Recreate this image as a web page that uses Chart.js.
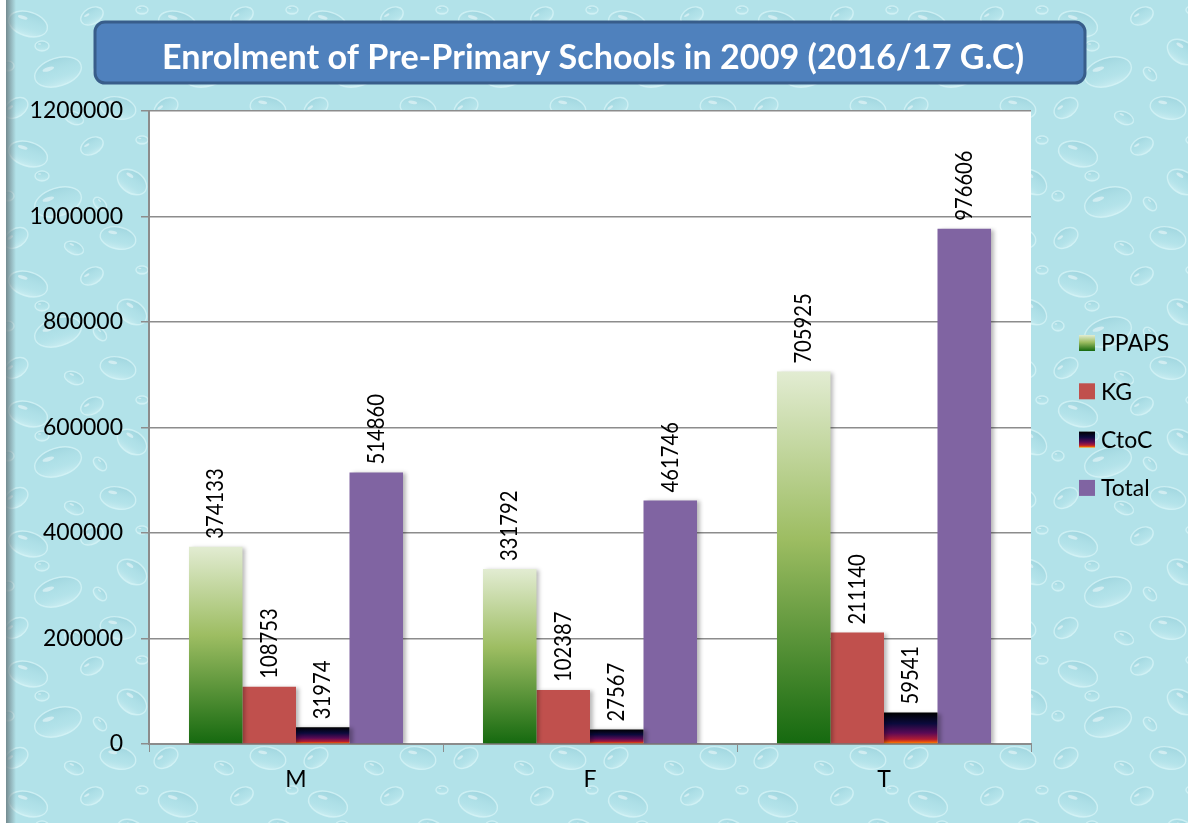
<!DOCTYPE html>
<html>
<head>
<meta charset="utf-8">
<style>
  body { margin: 0; background: #fff; }
  canvas { display: block; }
</style>
</head>
<body>
<canvas id="enrolChart" width="1188" height="823"></canvas>
<script src="https://cdn.jsdelivr.net/npm/chart.js"></script>
<script>
    const categories = ['M', 'F', 'T'];
    const ppaps = [374133, 331792, 705925];
    const kg = [108753, 102387, 211140];
    const ctoc = [31974, 27567, 59541];
    const total = [514860, 461746, 976606];
    const yTicks = [0, 200000, 400000, 600000, 800000, 1000000, 1200000];
    const titleText = 'Enrolment of Pre-Primary Schools in 2009 (2016/17 G.C)';

    const FONT = 'Lato, "Open Sans", sans-serif';

    const greenStops = [[0, '#e2ecd2'], [0.45, '#9dbd62'], [1, '#15690f']];
    const ctocStops = [[0, '#000000'], [0.35, '#0b0a3c'], [0.65, '#5a0a55'], [0.85, '#b01c35'], [0.93, '#e8500c'], [1, '#ff9a00']];

    function barGradient(stops) {
        return function (c) {
            const chart = c.chart;
            if (!chart.chartArea || c.raw === undefined) return stops[Math.floor(stops.length / 2)][1];
            const y = chart.scales.y;
            const top = y.getPixelForValue(c.raw);
            const bot = y.getPixelForValue(0);
            const g = chart.ctx.createLinearGradient(0, top, 0, bot);
            stops.forEach(s => g.addColorStop(s[0], s[1]));
            return g;
        };
    }

    // droplet texture tile for the background
    function makeTexture() {
        const t = document.createElement('canvas');
        t.width = 150; t.height = 130;
        const c = t.getContext('2d');
        c.fillStyle = '#b2e2e9';
        c.fillRect(0, 0, 150, 130);
        const drops = [[28, 24, 20, 12, 0.3], [92, 16, 12, 8, -0.5], [132, 52, 16, 11, 0.6], [58, 72, 24, 14, -0.3],
                       [118, 108, 18, 11, 0.2], [16, 108, 13, 9, -0.6], [74, 118, 10, 6, 0.4], [42, 46, 7, 5, 0],
                       [100, 74, 8, 5, 0.8], [142, 10, 6, 4, 0], [8, 66, 6, 5, 0]];
        drops.forEach(d => {
            c.save();
            c.translate(d[0], d[1]);
            c.rotate(d[4]);
            const g = c.createLinearGradient(0, -d[3], 0, d[3]);
            g.addColorStop(0, 'rgba(140,200,212,0.45)');
            g.addColorStop(0.6, 'rgba(175,225,232,0.2)');
            g.addColorStop(1, 'rgba(225,248,250,0.5)');
            c.fillStyle = g;
            c.beginPath();
            c.ellipse(0, 0, d[2], d[3], 0, 0, Math.PI * 2);
            c.fill();
            c.strokeStyle = 'rgba(215,244,247,0.75)';
            c.lineWidth = 1.4;
            c.stroke();
            c.fillStyle = 'rgba(255,255,255,0.45)';
            c.beginPath();
            c.ellipse(-d[2] * 0.35, -d[3] * 0.4, d[2] * 0.25, d[3] * 0.15, 0, 0, Math.PI * 2);
            c.fill();
            c.restore();
        });
        return t;
    }

    const backdrop = {
        id: 'backdrop',
        beforeDraw(chart) {
            const ctx = chart.ctx;
            const W = chart.width, H = chart.height;
            ctx.save();
            ctx.fillStyle = ctx.createPattern(makeTexture(), 'repeat');
            ctx.fillRect(0, 0, W, H);
            // left shaded edge
            const lg = ctx.createLinearGradient(6, 0, 16, 0);
            lg.addColorStop(0, 'rgba(110,130,135,0.9)');
            lg.addColorStop(1, 'rgba(110,130,135,0)');
            ctx.fillStyle = lg;
            ctx.fillRect(6, 0, 10, H);
            ctx.fillStyle = '#ffffff';
            ctx.fillRect(0, 0, 6, H);

            // white plot area
            const a = chart.chartArea;
            ctx.fillStyle = '#ffffff';
            ctx.fillRect(a.left, a.top, a.right - a.left, a.bottom - a.top);

            // title box
            const x = 95, y = 22, w = 990, h = 61, r = 10;
            ctx.beginPath();
            ctx.roundRect(x, y, w, h, r);
            ctx.fillStyle = '#4f81bd';
            ctx.fill();
            ctx.lineWidth = 3;
            ctx.strokeStyle = '#385d8a';
            ctx.stroke();
            ctx.font = 'bold 35px ' + FONT;
            ctx.fillStyle = '#ffffff';
            ctx.textBaseline = 'middle';
            const tw = ctx.measureText(titleText).width;
            const sx = 862 / tw;
            ctx.translate(593 - 431, 58);
            ctx.scale(sx, 1);
            ctx.textAlign = 'left';
            ctx.fillText(titleText, 0, 0);
            ctx.restore();
        }
    };

    const barExtras = {
        id: 'barExtras',
        beforeDatasetsDraw(chart) {
            const ctx = chart.ctx;
            ctx.save();
            ctx.shadowColor = 'rgba(0,0,0,0.28)';
            ctx.shadowBlur = 4;
            ctx.shadowOffsetX = 3;
            ctx.shadowOffsetY = 1;
        },
        afterDatasetsDraw(chart) {
            const ctx = chart.ctx;
            ctx.restore();
            ctx.save();
            ctx.font = '23px ' + FONT;
            ctx.fillStyle = '#000000';
            ctx.textAlign = 'left';
            ctx.textBaseline = 'middle';
            chart.data.datasets.forEach((ds, i) => {
                chart.getDatasetMeta(i).data.forEach((bar, j) => {
                    ctx.save();
                    ctx.translate(bar.x, bar.y - 8);
                    ctx.rotate(-Math.PI / 2);
                    ctx.scale(0.88, 1);
                    ctx.fillText(String(ds.data[j]), 0, 0);
                    ctx.restore();
                });
            });
            ctx.restore();
        },
        afterDraw(chart) {
            // legend on the right
            const ctx = chart.ctx;
            ctx.save();
            ctx.font = '23px ' + FONT;
            ctx.textBaseline = 'middle';
            ctx.textAlign = 'left';
            const stopsFor = [greenStops, null, ctocStops, null];
            chart.data.datasets.forEach((ds, i) => {
                const cy = 343 + i * 48.3;
                const bx = 1079, by = cy - 8, bs = 16;
                if (stopsFor[i]) {
                    const g = ctx.createLinearGradient(0, by, 0, by + bs);
                    stopsFor[i].forEach(s => g.addColorStop(s[0], s[1]));
                    ctx.fillStyle = g;
                } else {
                    ctx.fillStyle = ds.backgroundColor;
                }
                ctx.fillRect(bx, by, bs, bs);
                ctx.fillStyle = '#000000';
                ctx.fillText(ds.label, 1101, cy + 1);
            });
            ctx.restore();
        }
    };

    const ctx = document.getElementById('enrolChart').getContext('2d');

    new Chart(ctx, {
        type: 'bar',
        data: {
            labels: categories,
            datasets: [
                { label: 'PPAPS', data: ppaps, backgroundColor: barGradient(greenStops) },
                { label: 'KG', data: kg, backgroundColor: '#c0504d' },
                { label: 'CtoC', data: ctoc, backgroundColor: barGradient(ctocStops) },
                { label: 'Total', data: total, backgroundColor: '#8064a2' }
            ]
        },
        options: {
            responsive: false,
            animation: false,
            layout: { padding: { top: 111, right: 157, bottom: 0, left: 0 } },
            datasets: {
                bar: { categoryPercentage: 0.728, barPercentage: 1.0, borderWidth: 0 }
            },
            plugins: {
                legend: { display: false },
                tooltip: { enabled: false }
            },
            scales: {
                x: {
                    afterFit: s => { s.height = 79; },
                    grid: {
                        display: true,
                        drawOnChartArea: false,
                        offset: true,
                        tickLength: 8,
                        color: '#8c8c8c'
                    },
                    border: { color: '#8c8c8c', width: 2 },
                    ticks: { color: '#000', font: { family: FONT, size: 23 }, padding: 14 }
                },
                y: {
                    min: yTicks[0],
                    max: yTicks[yTicks.length - 1],
                    afterFit: s => { s.width = 149; },
                    afterBuildTicks: s => { s.ticks = yTicks.map(v => ({ value: v })); },
                    grid: { color: '#8c8c8c', tickLength: 8, lineWidth: 1.5 },
                    border: { color: '#8c8c8c', width: 2 },
                    ticks: {
                        color: '#000',
                        font: { family: FONT, size: 23 },
                        padding: 18,
                        callback: v => String(v)
                    }
                }
            }
        },
        plugins: [backdrop, barExtras]
    });
</script>
</body>
</html>
